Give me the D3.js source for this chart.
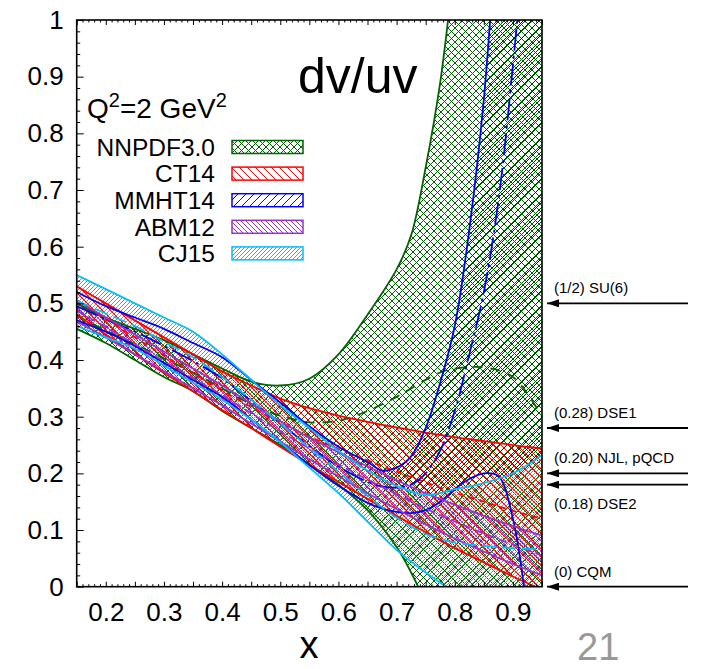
<!DOCTYPE html>
<html>
<head>
<meta charset="utf-8">
<script src="https://cdn.jsdelivr.net/npm/d3@7"></script>
<style>
body { margin: 0; background: #fff; }
text { font-family: "Liberation Sans", Arial, sans-serif; }
</style>
</head>
<body>
<svg width="702" height="669"></svg>
<script>
// data: x grid and band edges (lower / upper / central) per PDF set
var xGrid = [0.15,0.2,0.25,0.3,0.35,0.4,0.45,0.5,0.55,0.6,0.65,0.7,0.75,0.8,0.85,0.9,0.95];

var xNN   = [0.15,0.2,0.25,0.3,0.35,0.4,0.45,0.5,0.55,0.6,0.65,0.7,0.725,0.75,0.775,0.8,0.85,0.9,0.95];
var nnHi  = [0.50,0.475,0.455,0.435,0.41,0.385,0.362,0.355,0.367,0.41,0.48,0.56,0.62,0.74,0.89,1.1,1.5,2.0,2.6];
var nnLo  = [0.455,0.43,0.40,0.37,0.345,0.31,0.28,0.25,0.215,0.18,0.135,0.07,0.025,-0.03,-0.1,-0.18,-0.4,-0.7,-1.0];
var nnMid = [0.478,0.452,0.428,0.403,0.378,0.35,0.322,0.302,0.29,0.293,0.31,0.335,0.35,0.365,0.378,0.385,0.387,0.37,0.30];

var ctHi  = [0.53,0.50,0.47,0.44,0.41,0.38,0.355,0.332,0.315,0.302,0.291,0.281,0.272,0.264,0.257,0.25,0.244];
var ctLo  = [0.48,0.445,0.41,0.377,0.345,0.312,0.28,0.247,0.215,0.185,0.155,0.125,0.096,0.068,0.043,0.018,-0.005];
var ctMid = [0.505,0.472,0.44,0.408,0.377,0.346,0.317,0.29,0.265,0.243,0.223,0.203,0.184,0.166,0.15,0.134,0.12];

var xMM   = [0.15,0.2,0.25,0.3,0.35,0.4,0.45,0.5,0.55,0.6,0.65,0.675,0.7,0.725,0.75,0.775,0.8,0.825,0.85,0.875,0.9,0.925,0.95];
var mmHi  = [0.52,0.495,0.475,0.455,0.43,0.405,0.365,0.325,0.283,0.247,0.22,0.205,0.21,0.23,0.28,0.36,0.46,0.63,0.86,1.2,1.5,1.9,2.3];
var mmLo  = [0.47,0.45,0.425,0.395,0.365,0.335,0.295,0.255,0.215,0.178,0.148,0.138,0.132,0.13,0.135,0.15,0.172,0.19,0.2,0.195,0.12,-0.05,-0.35];
var mmMid = [0.495,0.472,0.45,0.425,0.398,0.368,0.328,0.288,0.248,0.212,0.185,0.177,0.175,0.18,0.2,0.24,0.31,0.41,0.52,0.68,0.92,1.2,1.5];

var abHi  = [0.505,0.475,0.445,0.415,0.385,0.355,0.323,0.292,0.263,0.237,0.212,0.188,0.165,0.145,0.125,0.107,0.09];
var abLo  = [0.468,0.44,0.41,0.38,0.35,0.32,0.288,0.256,0.225,0.195,0.165,0.137,0.11,0.085,0.062,0.04,0.02];
var abMid = [0.487,0.458,0.428,0.398,0.368,0.338,0.306,0.274,0.244,0.216,0.189,0.163,0.138,0.115,0.094,0.074,0.055];

var cjHi  = [0.55,0.525,0.50,0.475,0.45,0.41,0.365,0.32,0.28,0.24,0.205,0.178,0.162,0.172,0.183,0.2,0.232];
var cjLo  = [0.46,0.44,0.42,0.39,0.36,0.33,0.295,0.255,0.21,0.165,0.115,0.065,0.025,-0.01,-0.04,-0.07,-0.1];
var cjMid = [0.505,0.482,0.46,0.432,0.405,0.37,0.33,0.288,0.245,0.203,0.16,0.122,0.093,0.078,0.072,0.068,0.066];

var setNames  = ["NNPDF3.0","CT14","MMHT14","ABM12","CJ15"];
var setColors = ["#006400","#ff0000","#0000ff","#9932cc","#00bfff"];

var xTicks = [0.2,0.3,0.4,0.5,0.6,0.7,0.8,0.9];
var yTicks = [0,0.1,0.2,0.3,0.4,0.5,0.6,0.7,0.8,0.9,1];

var arrowVals   = [0.5,0.28,0.20,0.18,0];
var arrowLabels = ["(1/2) SU(6)","(0.28) DSE1","(0.20) NJL, pQCD","(0.18) DSE2","(0) CQM"];

// options
var margin = {top: 20, right: 160, bottom: 82.3, left: 76.7};
var width = 702, height = 669;

var svg = d3.select('svg');

// scales
var x = d3.scaleLinear().domain([0.15, 0.95]).range([margin.left, 542]);
var y = d3.scaleLinear().domain([0, 1]).range([height - margin.bottom, margin.top]);

// hatch patterns
var defs = svg.append('defs');
function hatch(id, color, size, kind) {
  var p = defs.append('pattern').attr('id', id)
    .attr('patternUnits', 'userSpaceOnUse')
    .attr('width', size).attr('height', size);
  var s = size;
  var fwd = 'M0,' + s + 'L' + s + ',0M' + (-s/2) + ',' + (s/2) + 'L' + (s/2) + ',' + (-s/2) + 'M' + (s/2) + ',' + (s*1.5) + 'L' + (s*1.5) + ',' + (s/2);
  var back = 'M0,0L' + s + ',' + s + 'M' + (-s/2) + ',' + (s/2) + 'L' + (s/2) + ',' + (s*1.5) + 'M' + (s/2) + ',' + (-s/2) + 'L' + (s*1.5) + ',' + (s/2);
  var d = kind == 'cross' ? fwd + back : (kind == 'fwd' ? fwd : back);
  p.append('path').attr('d', d).attr('stroke', color).attr('stroke-width', 1).attr('fill', 'none');
}
hatch('pNN', setColors[0], 7, 'cross');
hatch('pCT', setColors[1], 8, 'back');
hatch('pMM', setColors[2], 8, 'fwd');
hatch('pAB', setColors[3], 5, 'back');
hatch('pCJ', setColors[4], 4, 'fwd');
var patIds = ['pNN','pCT','pMM','pAB','pCJ'];

defs.append('clipPath').attr('id', 'clip').append('rect')
  .attr('x', x(0.15)).attr('y', y(1))
  .attr('width', x(0.95) - x(0.15)).attr('height', y(0) - y(1));

defs.append('marker').attr('id', 'arrow')
  .attr('viewBox', '0 0 12 8').attr('refX', 12).attr('refY', 4)
  .attr('markerUnits', 'userSpaceOnUse')
  .attr('markerWidth', 13).attr('markerHeight', 8).attr('orient', 'auto')
  .append('path').attr('d', 'M0,0L12,4L0,8Z').attr('fill', '#000');

// bands
function rows(xs, lo, hi, mid) {
  return xs.map(function(v, i){ return {x: v, lo: lo[i], hi: hi[i], mid: mid[i]}; });
}
var bands = [
  rows(xNN, nnLo, nnHi, nnMid),
  rows(xGrid, ctLo, ctHi, ctMid),
  rows(xMM, mmLo, mmHi, mmMid),
  rows(xGrid, abLo, abHi, abMid),
  rows(xGrid, cjLo, cjHi, cjMid)
];
var dashes = ['10,8', '6,5', '22,5,3,5', '8,5', '14,6'];

var curve = d3.curveCatmullRom.alpha(0.5);
var area = d3.area().x(function(d){ return x(d.x); })
  .y0(function(d){ return y(d.lo); }).y1(function(d){ return y(d.hi); })
  .curve(curve);
function edge(key) {
  return d3.line().x(function(d){ return x(d.x); }).y(function(d){ return y(d[key]); })
    .curve(curve);
}

var plot = svg.append('g').attr('clip-path', 'url(#clip)');
bands.forEach(function(b, i){
  plot.append('path').datum(b).attr('d', area)
    .attr('fill', 'url(#' + patIds[i] + ')').attr('stroke', 'none');
});
bands.forEach(function(b, i){
  ['lo', 'hi'].forEach(function(k){
    plot.append('path').datum(b).attr('d', edge(k))
      .attr('fill', 'none').attr('stroke', setColors[i]).attr('stroke-width', 1.8);
  });
  plot.append('path').datum(b).attr('d', edge('mid'))
    .attr('fill', 'none').attr('stroke', setColors[i]).attr('stroke-width', 1.8)
    .attr('stroke-dasharray', dashes[i]);
});

// axes
var minorX = d3.range(15, 96).map(function(v){ return v / 100; });
var minorY = d3.range(0, 51).map(function(v){ return v / 50; });

svg.append('g').attr('transform', 'translate(0,' + y(0) + ')')
  .call(d3.axisBottom(x).tickValues(minorX).tickFormat('')
    .tickSizeInner(0).tickSizeOuter(0))
  .call(function(g){
    g.select('.domain').remove();
    g.selectAll('.tick line').attr('y2', function(d){ return Math.round(d*100) % 5 == 0 ? -5 : -2.5; });
  });
svg.append('g').attr('transform', 'translate(0,' + y(1) + ')')
  .call(d3.axisTop(x).tickValues(minorX).tickFormat('')
    .tickSizeInner(0).tickSizeOuter(0))
  .call(function(g){
    g.select('.domain').remove();
    g.selectAll('.tick line').attr('y2', function(d){ return Math.round(d*100) % 5 == 0 ? 5 : 2.5; });
  });
svg.append('g').attr('transform', 'translate(0,' + y(0) + ')')
  .call(d3.axisBottom(x).tickValues(xTicks).tickFormat(d3.format('.1f'))
    .tickSizeInner(0).tickSizeOuter(0).tickPadding(16))
  .call(function(g){
    g.select('.domain').remove();
    g.selectAll('text').attr('font-size', 26).attr('fill', '#000');
  });
svg.append('g').attr('transform', 'translate(' + x(0.15) + ',0)')
  .call(d3.axisLeft(y).tickValues(minorY).tickFormat('')
    .tickSizeInner(0).tickSizeOuter(0))
  .call(function(g){
    g.select('.domain').remove();
    g.selectAll('.tick line').attr('x2', function(d){ return Math.round(d*50) % 5 == 0 ? 7 : 3.5; });
  });
svg.append('g').attr('transform', 'translate(' + x(0.15) + ',0)')
  .call(d3.axisLeft(y).tickValues(yTicks)
    .tickFormat(function(d){ return d == 0 ? '0' : d == 1 ? '1' : d3.format('.1f')(d); })
    .tickSizeInner(0).tickSizeOuter(0).tickPadding(13))
  .call(function(g){
    g.select('.domain').remove();
    g.selectAll('text').attr('font-size', 26).attr('fill', '#000');
  });

svg.append('rect')
  .attr('x', x(0.15)).attr('y', y(1))
  .attr('width', x(0.95) - x(0.15)).attr('height', y(0) - y(1))
  .attr('fill', 'none').attr('stroke', '#000').attr('stroke-width', 1.6);

// titles
svg.append('text').attr('x', 298).attr('y', 93).attr('font-size', 50).text('dv/uv');
var q = svg.append('text').attr('x', 87).attr('y', 118).attr('font-size', 28);
q.append('tspan').text('Q');
q.append('tspan').attr('dy', -11).attr('font-size', 20).text('2');
q.append('tspan').attr('dy', 11).text('=2 GeV');
q.append('tspan').attr('dy', -11).attr('font-size', 20).text('2');

// legend
var legend = svg.append('g');
setNames.forEach(function(name, i){
  var cy = 147 + i * 26.6;
  legend.append('text').attr('x', 215).attr('y', cy + 8.8)
    .attr('text-anchor', 'end').attr('font-size', 24.5).text(name);
  legend.append('rect').attr('x', 232).attr('y', cy - 6.5)
    .attr('width', 71).attr('height', 13)
    .attr('fill', 'url(#' + patIds[i] + ')')
    .attr('stroke', setColors[i]).attr('stroke-width', 1.5);
});

// arrows for model predictions
arrowVals.forEach(function(v, i){
  svg.append('line').attr('x1', 688).attr('x2', 547)
    .attr('y1', y(v)).attr('y2', y(v))
    .attr('stroke', '#000').attr('stroke-width', 1.8)
    .attr('marker-end', 'url(#arrow)');
  svg.append('text').attr('x', 554)
    .attr('y', arrowLabels[i].indexOf('DSE2') >= 0 ? y(v) + 24 : y(v) - 10)
    .attr('font-size', 15).text(arrowLabels[i]);
});

// axis label and page number
svg.append('text').attr('x', 309).attr('y', 658).attr('text-anchor', 'middle')
  .attr('font-size', 38).text('x');
svg.append('text').attr('x', 577).attr('y', 660).attr('font-size', 38)
  .attr('fill', '#999').text('21');
</script>
</body>
</html>
